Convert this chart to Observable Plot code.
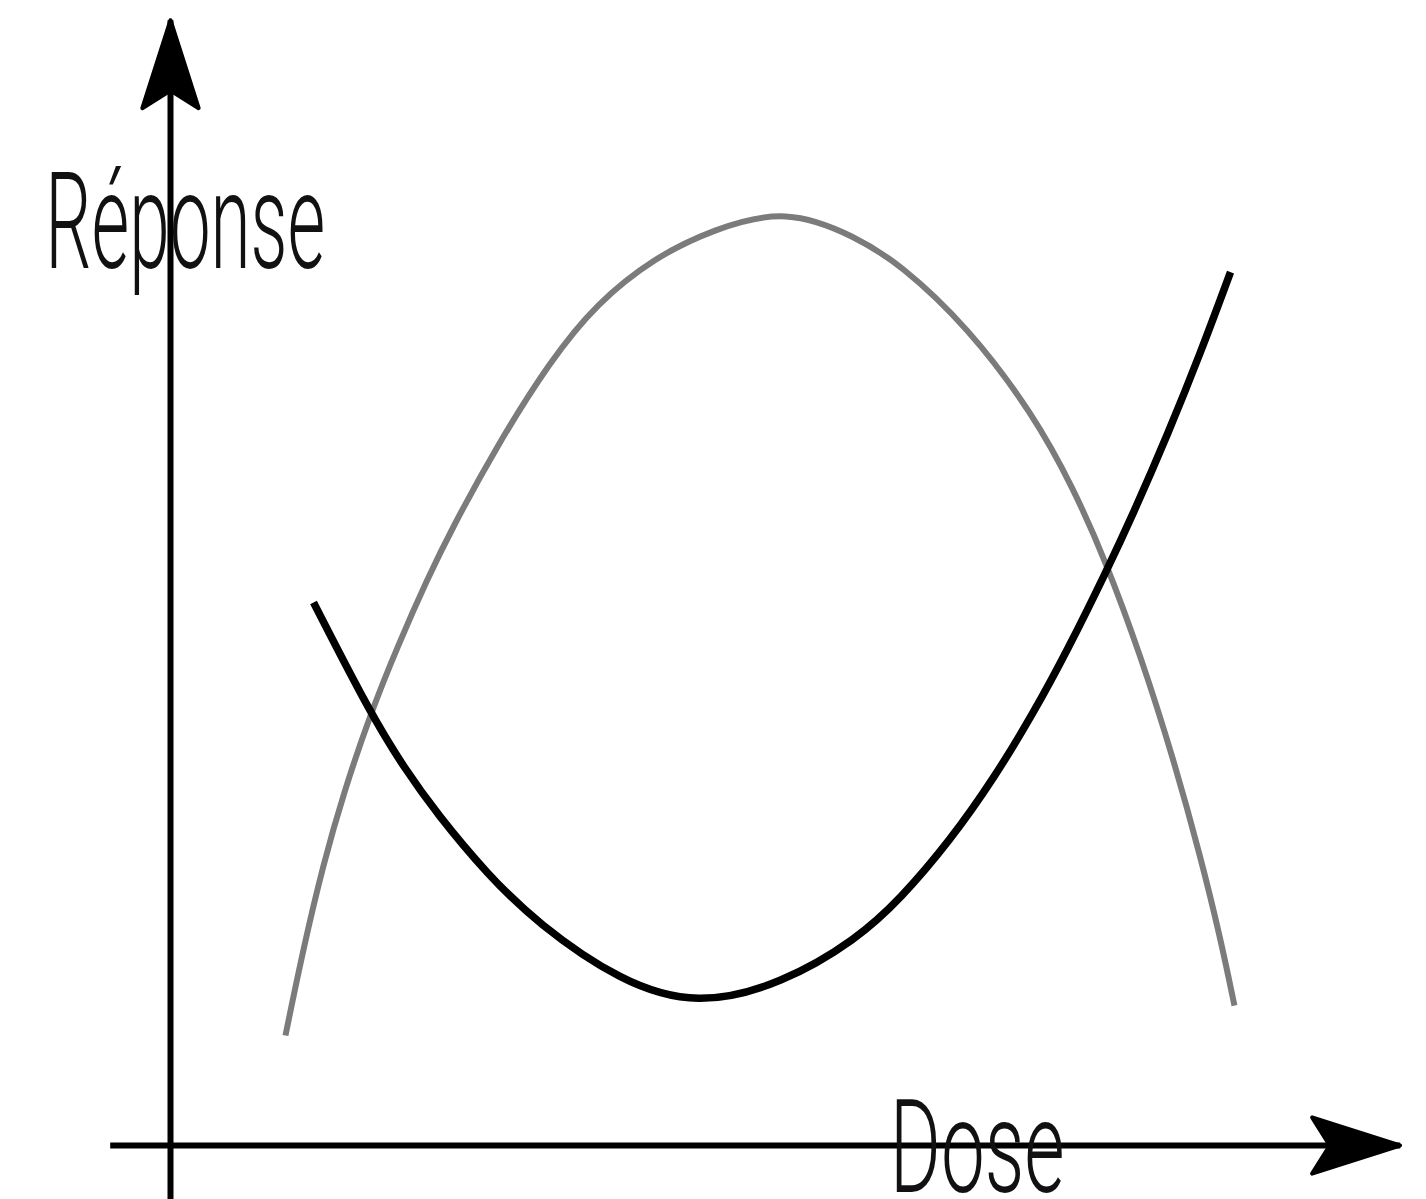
<!DOCTYPE html>
<html>
<head>
<meta charset="utf-8">
<script src="https://cdn.jsdelivr.net/npm/d3@7"></script>
<script src="https://cdn.jsdelivr.net/npm/@observablehq/plot@0.6"></script>
<style>
  html, body { margin: 0; padding: 0; background: #fff; overflow: hidden; }
  #chart svg { display: block; }
</style>
</head>
<body>
<div id="chart"></div>
<script>
// Black curve (U shape): dose vs response
const blackDose = [1.233, 1.724, 2.009, 2.302, 2.733, 3.164, 3.879, 4.543, 5.276, 5.914, 6.293, 6.724, 7.095, 7.440, 7.733, 8.060, 8.302, 8.595, 8.879, 9.138];
const blackResp = [5.839, 4.645, 4.070, 3.559, 2.914, 2.387, 1.760, 1.500, 1.740, 2.215, 2.651, 3.285, 3.941, 4.651, 5.327, 6.153, 6.800, 7.641, 8.520, 9.391];

// Gray curve (inverted U)
const grayDose = [0.991, 1.147, 1.319, 1.491, 1.724, 1.957, 2.216, 2.431, 2.810, 3.276, 3.672, 4.172, 4.672, 5.310, 5.914, 6.293, 6.871, 7.440, 7.784, 8.060, 8.362, 8.647, 8.879, 9.052, 9.172];
const grayResp = [1.183, 2.129, 3.032, 3.785, 4.645, 5.366, 6.097, 6.645, 7.516, 8.441, 9.054, 9.548, 9.850, 10.08, 9.770, 9.473, 8.806, 7.860, 7.065, 6.290, 5.274, 4.156, 3.108, 2.226, 1.505];

// Axis extents (hand-drawn axes with arrowheads at their far ends)
const axisNames = ["Réponse", "Dose"];
const axisX1 = [0, -0.52];
const axisY1 = [-0.62, 0];
const axisX2 = [0, 10.6];
const axisY2 = [12.1, 0];
const axisHeadRotate = [0, 90];

// Axis labels
const labelText = ["Réponse", "Dose"];
const labelDose = [-1.08, 6.2];
const labelResp = [9.44, -0.5];
const labelWidth = [280, 175];
const labelSize = [136, 130];

const black = blackDose.map((d, i) => ({dose: d, response: blackResp[i]}));
const gray = grayDose.map((d, i) => ({dose: d, response: grayResp[i]}));
const axes = axisNames.map((n, i) => ({name: n, x1: axisX1[i], y1: axisY1[i], x2: axisX2[i], y2: axisY2[i], rot: axisHeadRotate[i]}));
const labels = labelText.map((t, i) => ({text: t, dose: labelDose[i], response: labelResp[i], size: labelSize[i], w: labelWidth[i]}));

// arrowhead symbol: tip at the anchor, pointing up, concave back
const arrowHead = {
  draw(context, size) {
    const s = Math.sqrt(size / Math.PI);
    context.moveTo(0, 0);
    context.lineTo(0.32 * s, s);
    context.lineTo(0, 0.8 * s);
    context.lineTo(-0.32 * s, s);
    context.closePath();
  }
};

const chart = Plot.plot({
  width: 1426,
  height: 1199,
  margin: 0,
  x: {domain: [0, 10], range: [170, 1330], axis: null},
  y: {domain: [0, 10], range: [1145, 215], axis: null},
  style: {background: "#fff", overflow: "hidden"},
  marks: [
    Plot.link(axes, {x1: "x1", y1: "y1", x2: "x2", y2: "y2", stroke: "#000", strokeWidth: 6, strokeLinecap: "butt"}),
    Plot.dot(axes, {x: "x2", y: "y2", r: 88, symbol: arrowHead, rotate: "rot", fill: "#000", stroke: "#000", strokeWidth: 4, strokeLinejoin: "round"}),
    Plot.line(gray, {x: "dose", y: "response", stroke: "#7b7b7b", strokeWidth: 6, curve: "basis", strokeLinecap: "butt"}),
    Plot.line(black, {x: "dose", y: "response", stroke: "#000", strokeWidth: 7.5, curve: "basis", strokeLinecap: "butt"}),
    Plot.text(labels, {
      x: "dose", y: "response", text: "text",
      fontSize: (d) => d.size,
      textAnchor: "start", lineAnchor: "bottom",
      fill: "#111",
      fontWeight: 300,
      fontFamily: "Roboto, 'DejaVu Sans Condensed', sans-serif"
    })
  ]
});

// squeeze labels to the hand-lettered widths
chart.querySelectorAll("text").forEach((t) => {
  const lab = labels.find((l) => l.text === t.textContent);
  if (lab) {
    t.setAttribute("textLength", lab.w);
    t.setAttribute("lengthAdjust", "spacingAndGlyphs");
  }
});

document.getElementById("chart").appendChild(chart);
</script>
</body>
</html>
